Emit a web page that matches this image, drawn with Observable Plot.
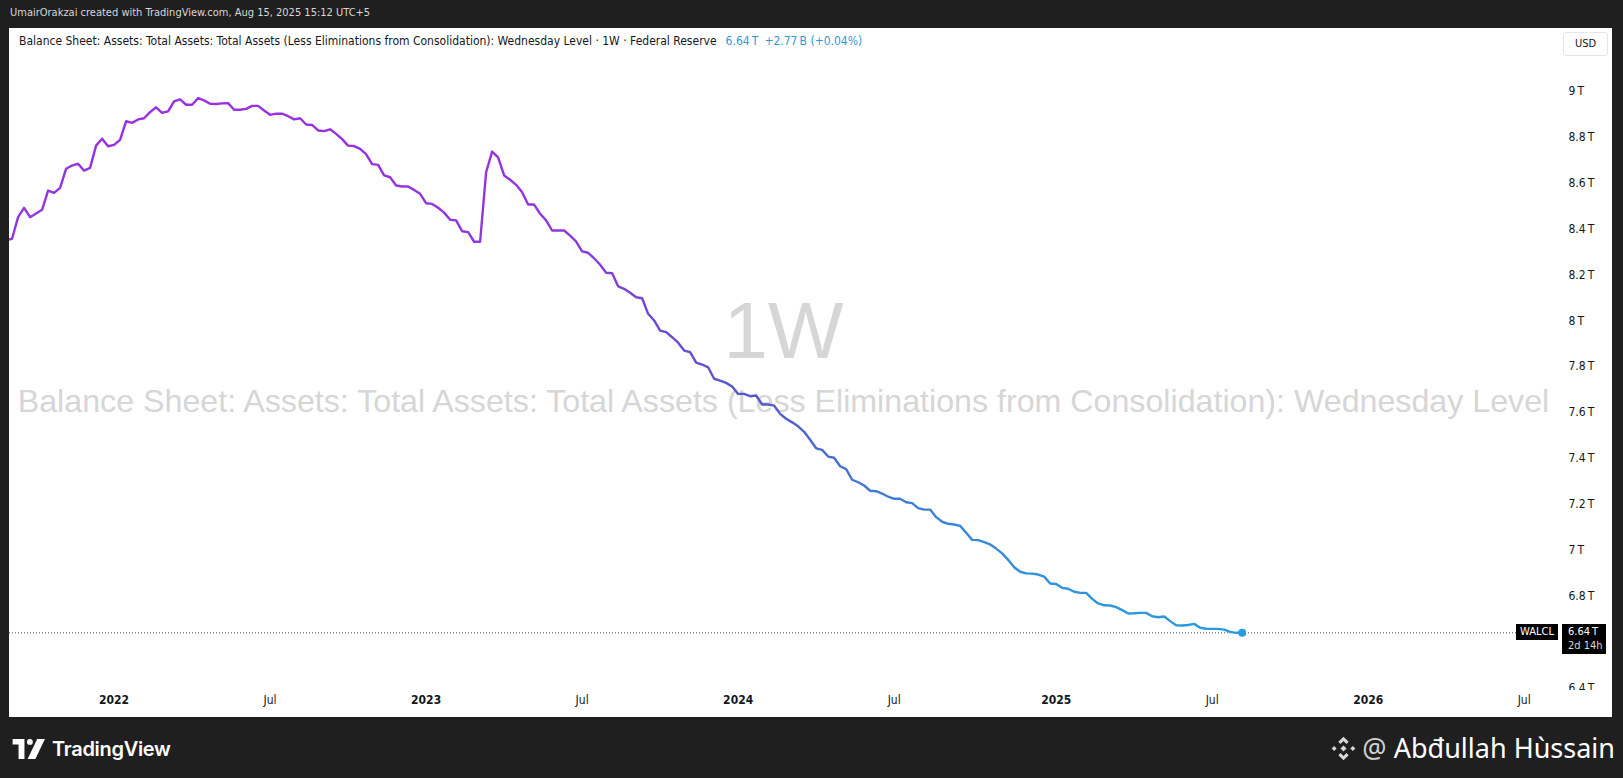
<!DOCTYPE html>
<html>
<head>
<meta charset="utf-8">
<script src="https://cdn.jsdelivr.net/npm/d3@7"></script>
<script src="https://cdn.jsdelivr.net/npm/@observablehq/plot@0.6"></script>
<style>
  html, body { margin: 0; padding: 0; width: 1623px; height: 778px; overflow: hidden; background: #1f1f1f; }
  body { position: relative; font-family: "Liberation Sans Narrow", "DejaVu Sans Condensed", "Liberation Sans", sans-serif; }
  #hdr { position: absolute; left: 10px; top: 6px; color: #d8d8d8; font-size: 11px; white-space: nowrap; }
  #panel { position: absolute; left: 9px; top: 28px; width: 1603px; height: 689px; background: #fff; overflow: hidden; }
  #wm { position: absolute; left: 0; top: 0; width: 1549px; height: 662px; text-align: center; font-family: "Liberation Sans", Arial, sans-serif; color: #d6d6d6; }
  #wm1 { position: absolute; left: 0; width: 1549px; top: 258px; font-size: 80px; line-height: 90px; }
  #wm2 { position: absolute; left: 0; width: 1549px; top: 354px; font-size: 32.2px; line-height: 38px; white-space: nowrap; }
  #chart { position: absolute; left: 0; top: 0; }
  #legend { position: absolute; left: 10px; top: 6px; font-size: 12px; color: #131722; white-space: nowrap; }
  #legend .v { color: #2a9bd8; margin-left: 6px; }
  #usd { position: absolute; left: 1554px; top: 4px; width: 43px; height: 22px; border: 1px solid #e6e6e6; border-radius: 3px; font-size: 11px; color: #131722; text-align: center; line-height: 22px; }
  .tag { position: absolute; background: #000; color: #fff; font-size: 11px; line-height: 14px; white-space: nowrap; }
  #foot1 { position: absolute; left: 12px; top: 737px; color: #fff; font-family: "Inter", "Roboto", sans-serif; font-weight: 600; font-size: 20px; display: flex; align-items: center; gap: 6px; letter-spacing: -0.3px; }
  #foot2 { position: absolute; right: 8px; top: 730px; color: #fff; font-family: "Noto Sans", "Open Sans", sans-serif; font-size: 27px; line-height: 36px; display: flex; align-items: center; gap: 5px; }
  #foot2 .at { color: #d0d0d0; }
</style>
</head>
<body>
<div id="hdr">UmairOrakzai created with TradingView.com, Aug 15, 2025 15:12 UTC+5</div>
<div id="panel">
  <div id="wm"><div id="wm1">1W</div><div id="wm2">Balance Sheet: Assets: Total Assets: Total Assets (Less Eliminations from Consolidation): Wednesday Level</div></div>
  <div id="chart"></div>
  <div id="legend"></div>
  <div id="usd">USD</div>
</div>
<div id="foot1">
  <svg width="34" height="20" viewBox="0 0 36 22"><path d="M0 0h13v22H6.5V6H0z" fill="#fff"/><circle cx="19" cy="3.2" r="3.2" fill="#fff"/><path d="M27 0h8.5L25 22h-8.5z" fill="#fff"/></svg>
  <span>TradingView</span>
</div>
<div id="foot2">
  <svg width="27" height="27" viewBox="0 0 24 24" fill="#d8d8d8">
    <path d="M12 1.5l4.6 4.6-1.9 1.9L12 5.3 9.3 8 7.4 6.1z"/>
    <path d="M12 22.5l-4.6-4.6 1.9-1.9 2.7 2.7 2.7-2.7 1.9 1.9z"/>
    <path d="M1.5 12l2.2-2.2 2.2 2.2-2.2 2.2z"/><path d="M18.1 12l2.2-2.2 2.2 2.2-2.2 2.2z"/>
    <path d="M12 9.3l2.7 2.7-2.7 2.7-2.7-2.7z"/>
  </svg>
  <span><span class="at">@</span> Abđullah Hùssain</span>
</div>
<script>
// ---- data ----
const seriesName = "Balance Sheet: Assets: Total Assets: Total Assets (Less Eliminations from Consolidation): Wednesday Level";
const firstWeek = "2021-09-01"; // weekly Wednesday observations
const walcl = [
  8.350, 8.357, 8.451, 8.492, 8.451, 8.467, 8.483, 8.567, 8.557, 8.579,
  8.662, 8.676, 8.684, 8.654, 8.666, 8.763, 8.793, 8.760, 8.766, 8.788,
  8.869, 8.862, 8.877, 8.882, 8.909, 8.930, 8.906, 8.912, 8.956, 8.964,
  8.941, 8.941, 8.970, 8.960, 8.945, 8.944, 8.947, 8.948, 8.919, 8.919,
  8.923, 8.936, 8.936, 8.916, 8.897, 8.902, 8.902, 8.891, 8.877, 8.882,
  8.855, 8.853, 8.829, 8.826, 8.834, 8.814, 8.791, 8.763, 8.761, 8.749,
  8.726, 8.682, 8.679, 8.633, 8.625, 8.589, 8.585, 8.585, 8.570, 8.553,
  8.512, 8.509, 8.492, 8.471, 8.440, 8.437, 8.390, 8.386, 8.344, 8.344,
  8.647, 8.737, 8.712, 8.633, 8.614, 8.592, 8.560, 8.506, 8.506, 8.466,
  8.437, 8.393, 8.393, 8.393, 8.371, 8.345, 8.302, 8.296, 8.272, 8.244,
  8.209, 8.207, 8.150, 8.139, 8.122, 8.102, 8.098, 8.030, 8.001, 7.957,
  7.950, 7.928, 7.904, 7.870, 7.863, 7.817, 7.809, 7.797, 7.747, 7.739,
  7.729, 7.713, 7.681, 7.681, 7.671, 7.674, 7.635, 7.635, 7.630, 7.594,
  7.573, 7.557, 7.540, 7.516, 7.481, 7.444, 7.437, 7.408, 7.403, 7.366,
  7.353, 7.307, 7.296, 7.282, 7.259, 7.257, 7.247, 7.233, 7.224, 7.224,
  7.209, 7.205, 7.183, 7.177, 7.177, 7.144, 7.124, 7.115, 7.112, 7.106,
  7.076, 7.045, 7.044, 7.035, 7.025, 7.007, 6.986, 6.958, 6.926, 6.906,
  6.899, 6.898, 6.894, 6.885, 6.855, 6.853, 6.836, 6.832, 6.819, 6.814,
  6.814, 6.788, 6.768, 6.760, 6.759, 6.752, 6.739, 6.724, 6.725, 6.727,
  6.727, 6.712, 6.708, 6.711, 6.691, 6.673, 6.672, 6.674, 6.679, 6.662,
  6.658, 6.657, 6.657, 6.654, 6.644, 6.640, 6.640
];
const xTickDates = ["2022-01-05","2022-07-06","2023-01-04","2023-07-05","2024-01-03","2024-07-03","2025-01-08","2025-07-09","2026-01-07","2026-07-08"];
const xTickLabels = ["2022","Jul","2023","Jul","2024","Jul","2025","Jul","2026","Jul"];
const yTicks = [9, 8.8, 8.6, 8.4, 8.2, 8, 7.8, 7.6, 7.4, 7.2, 7, 6.8, 6.4];
const lastChange = "+2.77\u2009B (+0.04%)";
const countdown = "2d 14h";
const symbol = "WALCL";

// ---- build ----
const start = new Date(firstWeek + "T00:00:00Z");
const data = walcl.map((v, i) => ({ date: d3.utcDay.offset(start, 7 * i), value: v }));
const last = data[data.length - 1];
const xTicks = xTickDates.map((d, i) => ({ date: new Date(d + "T00:00:00Z"), label: xTickLabels[i], year: /^\d{4}$/.test(xTickLabels[i]) }));
const fmtT = v => `${+v.toFixed(2)}\u2009T`;

const xDomain = [new Date("2021-09-05T00:00:00Z"), new Date("2026-10-19T00:00:00Z")];
const paneEnd = new Date("2026-08-17T00:00:00Z");
const W = 1603, H = 689;

const gradient = () => {
  const ns = "http://www.w3.org/2000/svg";
  const defs = document.createElementNS(ns, "defs");
  const lg = document.createElementNS(ns, "linearGradient");
  lg.setAttribute("id", "walclGrad");
  lg.setAttribute("x1", "0"); lg.setAttribute("y1", "0");
  lg.setAttribute("x2", "0"); lg.setAttribute("y2", "1");
  [["0%", "#9b2fe2"], ["25%", "#9236de"], ["55%", "#5656cc"], ["80%", "#3a86d8"], ["100%", "#2a9be0"]].forEach(([o, c]) => {
    const s = document.createElementNS(ns, "stop");
    s.setAttribute("offset", o); s.setAttribute("stop-color", c);
    lg.appendChild(s);
  });
  defs.appendChild(lg);
  return defs;
};

const plot = Plot.plot({
  width: W,
  height: H,
  marginLeft: 0,
  marginRight: 0,
  marginTop: 0,
  marginBottom: 27,
  style: { background: "transparent", fontFamily: "\"Liberation Sans Narrow\", \"DejaVu Sans Condensed\", \"Liberation Sans\", sans-serif", fontSize: "12px", color: "#131722" },
  x: { type: "utc", domain: xDomain, axis: null },
  y: { domain: [6.38867, 9.2732], axis: null },
  marks: [
    gradient,
    Plot.ruleY([{ y: last.value, x1: xDomain[0], x2: paneEnd }], { y: "y", x1: "x1", x2: "x2", stroke: "#4a4a4a", strokeWidth: 1, strokeDasharray: "1,2" }),
    Plot.line(data, { x: "date", y: "value", stroke: "url(#walclGrad)", strokeWidth: 2.4, strokeLinejoin: "round", clip: true }),
    Plot.dot([last], { x: "date", y: "value", r: 4, fill: "#2a9be0", stroke: "none" }),
    Plot.text(yTicks, { y: d => d, text: d => fmtT(d), frameAnchor: "right", dx: -44, textAnchor: "start", fill: "#131722", fontSize: 12, clip: true }),
    Plot.text(xTicks.filter(d => d.year), { x: "date", text: "label", frameAnchor: "bottom", dy: 13, fontWeight: "bold", fill: "#131722", fontSize: 12 }),
    Plot.text(xTicks.filter(d => !d.year), { x: "date", text: "label", frameAnchor: "bottom", dy: 13, fill: "#131722", fontSize: 12 })
  ]
});
document.getElementById("chart").appendChild(plot);

// legend line
document.getElementById("legend").innerHTML =
  `${seriesName} · 1W · Federal Reserve<span class="v" style="margin-left:9px">${fmtT(last.value)}</span><span class="v">${lastChange}</span>`;

// price tags placed from the y scale
const yS = plot.scale("y");
const ly = yS.apply(last.value);
const panel = document.getElementById("panel");
const tag1 = document.createElement("div");
tag1.className = "tag";
tag1.style.cssText = `left:1507px; top:${ly - 8}px; width:42px; height:16px; line-height:16px; text-align:center;`;
tag1.textContent = symbol;
panel.appendChild(tag1);
const tag2 = document.createElement("div");
tag2.className = "tag";
tag2.style.cssText = `left:1553px; top:${ly - 8}px; width:44px; height:30px; padding-left:6px; box-sizing:border-box; line-height:14px; padding-top:1px;`;
tag2.innerHTML = `${fmtT(last.value)}<br><span style="color:#d8d8d8">${countdown}</span>`;
panel.appendChild(tag2);
</script>
</body>
</html>
